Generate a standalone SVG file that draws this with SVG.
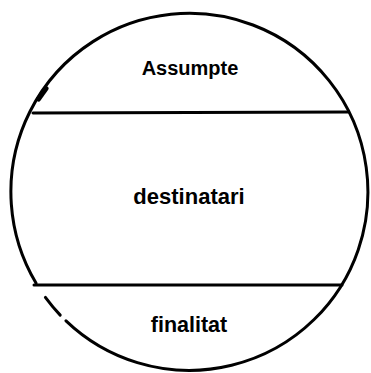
<svg xmlns="http://www.w3.org/2000/svg" width="371" height="373" viewBox="0 0 371 373">
  <style>
    .ln { fill: none; stroke: #000; stroke-width: 3; stroke-linecap: round; }
    .lbl { font-family: "Liberation Sans", Arial, sans-serif; font-weight: bold; fill: #000; text-anchor: middle; }
  </style>
  <rect width="371" height="373" fill="#fff"/>
  <g id="outline">
    <path class="ln" d="M 66,320.8 A 178.5 178.5 0 1 0 36,283.1"/>
    <path class="ln" d="M 45.4,297.4 A 178.5 178.5 0 0 0 60.2,315.1"/>
    <path class="ln" d="M 38.5,99 L 46,88.5" style="stroke-width:5"/>
  </g>
  <g id="dividers">
    <line class="ln" x1="33" y1="113" x2="348" y2="112"/>
    <line class="ln" x1="34" y1="285" x2="342" y2="285"/>
  </g>
  <g id="assumpte">
    <text class="lbl" x="190" y="75" font-size="20">Assumpte</text>
  </g>
  <g id="destinatari">
    <text class="lbl" x="189" y="204" font-size="22">destinatari</text>
  </g>
  <g id="finalitat">
    <text class="lbl" x="189" y="332" font-size="21.5">finalitat</text>
  </g>
</svg>
